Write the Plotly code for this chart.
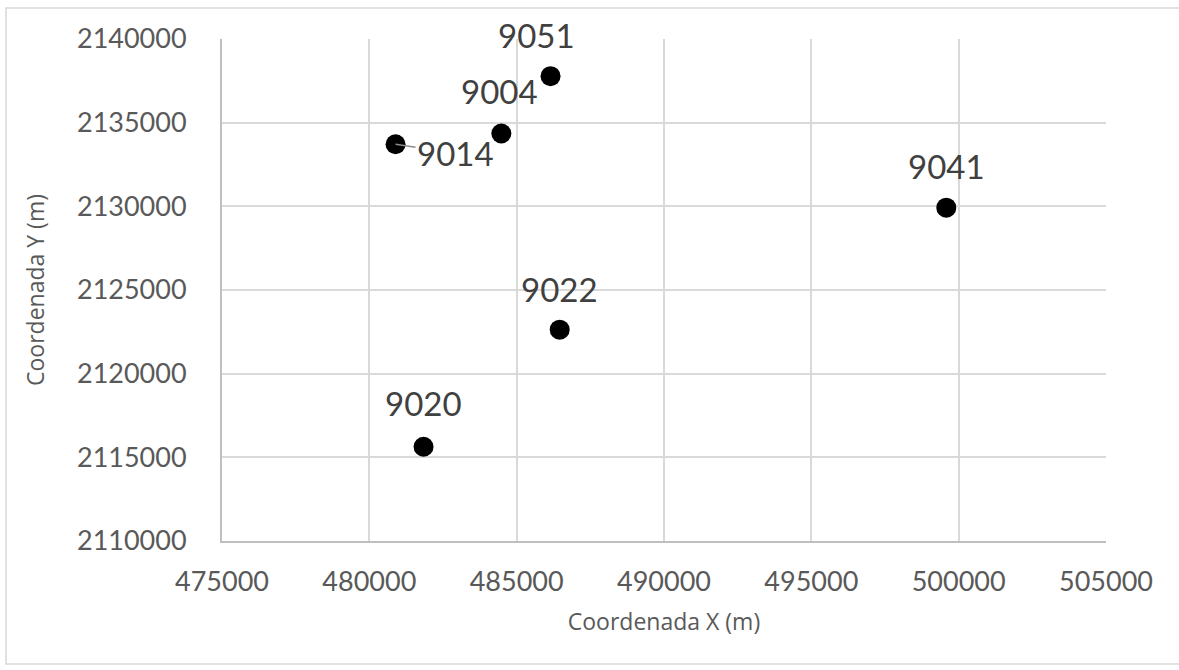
import plotly.graph_objects as go

# Data
station_ids = ["9051", "9004", "9014", "9041", "9022", "9020"]
coord_x = [486150, 484480, 480890, 499580, 486460, 481840]
coord_y = [2137780, 2134350, 2133710, 2129920, 2122630, 2115630]
x_ticks = [475000, 480000, 485000, 490000, 495000, 500000, 505000]
y_ticks = [2110000, 2115000, 2120000, 2125000, 2130000, 2135000, 2140000]

# Label placement (pixel offsets from the marker)
label_dx = [-14, -2, 60, 0, 0, 0]
label_dy = [-41, -43, 9, -42, -41, -44]
label_arrow = [False, False, True, False, False, False]

NUM_FONT = "Lato"
TXT_FONT = "Open Sans"

fig = go.Figure()
fig.add_trace(go.Scatter(
    x=coord_x, y=coord_y, mode="markers",
    marker=dict(color="black", size=20),
    hoverinfo="text", text=station_ids,
))

for sid, xv, yv, dx, dy, arr in zip(station_ids, coord_x, coord_y, label_dx, label_dy, label_arrow):
    if arr:
        fig.add_annotation(x=xv, y=yv, text=sid, showarrow=True, ax=dx, ay=dy,
                           arrowhead=0, arrowwidth=1.5, arrowcolor="#8c8c8c", standoff=0,
                           font=dict(family=NUM_FONT, size=33, color="#404040"))
    else:
        fig.add_annotation(x=xv, y=yv, text=sid, showarrow=False, xshift=dx, yshift=-dy,
                           font=dict(family=NUM_FONT, size=33, color="#404040"))

fig.update_layout(
    width=1179, height=670,
    margin=dict(l=222, r=73, t=39, b=129),
    paper_bgcolor="white", plot_bgcolor="white",
    showlegend=False,
    xaxis=dict(
        range=[475000, 505000], tickvals=x_ticks, ticktext=[str(v) for v in x_ticks],
        showgrid=True, gridcolor="#d9d9d9", gridwidth=2,
        showline=True, linecolor="#bfbfbf", linewidth=2, zeroline=False,
        ticks="", ticklabelstandoff=16,
        tickfont=dict(family=NUM_FONT, size=27, color="#595959"),
        title=dict(text="Coordenada X (m)", standoff=17,
                   font=dict(family=TXT_FONT, size=23, color="#595959")),
    ),
    yaxis=dict(
        range=[2110000, 2140000], tickvals=y_ticks, ticktext=[str(v) for v in y_ticks],
        showgrid=True, gridcolor="#d9d9d9", gridwidth=2,
        showline=True, linecolor="#bfbfbf", linewidth=2, zeroline=False,
        ticks="", ticklabelstandoff=28,
        tickfont=dict(family=NUM_FONT, size=27, color="#595959"),
        title=dict(text="Coordenada Y (m)", standoff=26,
                   font=dict(family=TXT_FONT, size=23, color="#595959")),
    ),
    shapes=[dict(type="rect", xref="paper", yref="paper",
                 x0=-216/884, x1=1067/884, y0=-123/502, y1=533/502,
                 line=dict(color="#d9d9d9", width=1.5), fillcolor="rgba(0,0,0,0)",
                 layer="below")],
)

fig.write_html("out.html", config={"displayModeBar": False},
               post_script="document.body.style.margin='0';")
